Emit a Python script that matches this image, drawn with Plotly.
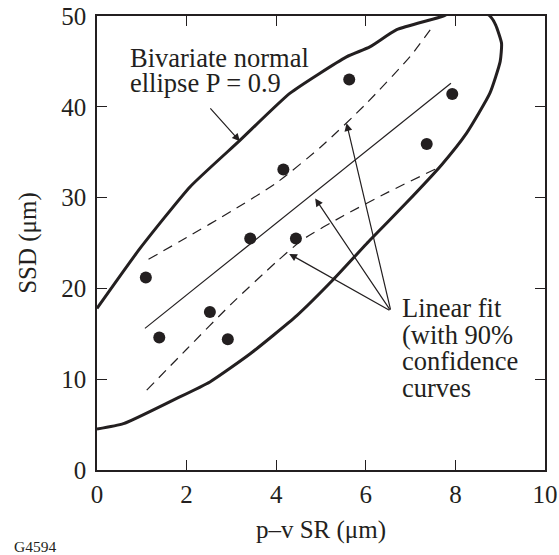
import plotly.graph_objects as go

# ---- data ----
sr_points = [1.09, 1.39, 2.52, 2.92, 3.42, 4.16, 4.44, 5.63, 7.36, 7.93]
ssd_points = [21.2, 14.6, 17.4, 14.4, 25.5, 33.1, 25.5, 43.0, 35.9, 41.4]

fit_x = [1.07, 7.90]
fit_y = [15.6, 42.6]

upper_conf_x = [1.15, 2.0, 3.0, 4.0, 5.0, 6.0, 7.0, 7.53]
upper_conf_y = [23.2, 25.6, 28.5, 31.6, 35.6, 40.3, 45.6, 49.1]

lower_conf_x = [1.11, 2.0, 3.0, 4.0, 4.6, 5.5, 6.5, 7.66]
lower_conf_y = [8.8, 13.3, 18.3, 22.9, 25.4, 28.0, 30.6, 33.4]

ellipse_x = [0.0, 0.59, 1.7, 2.52, 3.42, 4.46, 5.28, 6.09, 6.9, 7.69, 8.25, 8.77, 9.0, 9.03,
             8.9, 8.77, 8.3, 7.73, 6.69, 6.09, 5.57, 4.31, 3.19, 2.08, 0.96, 0.0]
ellipse_y = [4.5, 5.1, 7.7, 9.7, 12.8, 17.0, 21.0, 25.3, 29.4, 33.6, 37.1, 41.5, 45.0, 47.0,
             49.0, 50.0, 51.3, 50.0, 48.5, 46.6, 45.5, 41.5, 36.3, 31.2, 24.4, 17.8]

x_ticks = [0, 2, 4, 6, 8, 10]
y_ticks = [0, 10, 20, 30, 40, 50]

FONT = "Liberation Serif, Times New Roman, serif"
INK = "#231f20"

fig = go.Figure()

fig.add_trace(go.Scatter(x=ellipse_x, y=ellipse_y, mode="lines",
                         line=dict(color=INK, width=3, shape="spline", smoothing=0.5),
                         hoverinfo="skip"))
fig.add_trace(go.Scatter(x=upper_conf_x, y=upper_conf_y, mode="lines",
                         line=dict(color=INK, width=1.2, dash="10px,7px", shape="spline", smoothing=0.6)))
fig.add_trace(go.Scatter(x=lower_conf_x, y=lower_conf_y, mode="lines",
                         line=dict(color=INK, width=1.2, dash="10px,7px", shape="spline", smoothing=0.6)))
fig.add_trace(go.Scatter(x=fit_x, y=fit_y, mode="lines",
                         line=dict(color=INK, width=1.2)))
fig.add_trace(go.Scatter(x=sr_points, y=ssd_points, mode="markers",
                         marker=dict(color=INK, size=12)))

# text labels (one annotation per line to control leading)
text_lines = [
    ("Bivariate normal", 0.69, 45.4),
    ("ellipse P = 0.9", 0.69, 42.6),
    ("Linear fit", 6.76, 17.8),
    ("(with 90%", 6.76, 14.9),
    ("confidence", 6.76, 12.0),
    ("curves", 6.76, 9.0),
]
for t, x, y in text_lines:
    fig.add_annotation(x=x, y=y, xref="x", yref="y", text=t, showarrow=False,
                       xanchor="left", yanchor="middle",
                       font=dict(family=FONT, size=26.5, color=INK))

# arrows: (head x, head y, tail x, tail y)
arrows = [
    (3.19, 36.2, 2.50, 40.0),
    (5.57, 38.2, 6.56, 17.5),
    (4.87, 29.9, 6.56, 17.5),
    (4.29, 23.8, 6.56, 17.5),
]
for hx, hy, tx, ty in arrows:
    fig.add_annotation(x=hx, y=hy, ax=tx, ay=ty, xref="x", yref="y", axref="x", ayref="y",
                       text="", showarrow=True, arrowhead=2, arrowsize=1.3,
                       arrowwidth=1.2, arrowcolor=INK)

W, H = 559, 555
ML, MR, MT, MB = 97, 14, 16, 85
plot_w = W - ML - MR
plot_h = H - MT - MB

fig.add_annotation(x=(12 - ML) / plot_w, y=(H - MB - 546) / plot_h, xref="paper", yref="paper",
                   text="G4594", showarrow=False,
                   font=dict(family=FONT, size=15.5, color=INK), xanchor="left", yanchor="middle")

axis_common = dict(showgrid=False, zeroline=False, showline=True, linecolor=INK, linewidth=1.5,
                   mirror="ticks", ticks="inside", ticklen=10, tickwidth=1.2, tickcolor=INK,
                   automargin=False, ticklabeloverflow="allow",
                   tickfont=dict(family=FONT, size=25, color=INK))

fig.update_layout(
    width=W, height=H,
    margin=dict(l=ML, r=MR, t=MT, b=MB),
    paper_bgcolor="white", plot_bgcolor="white",
    showlegend=False,
    font=dict(family=FONT, color=INK),
    xaxis=dict(range=[0, 10], tickvals=x_ticks, ticktext=[str(v) for v in x_ticks],
               title=dict(text="p–v SR (μm)", font=dict(family=FONT, size=25, color=INK), standoff=14),
               ticklabelstandoff=1, **axis_common),
    yaxis=dict(range=[0, 50], tickvals=y_ticks, ticktext=[str(v) for v in y_ticks],
               title=dict(text="SSD (μm)", font=dict(family=FONT, size=25, color=INK), standoff=18),
               ticklabelstandoff=4, **axis_common),
)

fig.write_html("out.html", config={"displayModeBar": False},
               post_script="document.body.style.margin='0';document.body.style.overflow='hidden';")
